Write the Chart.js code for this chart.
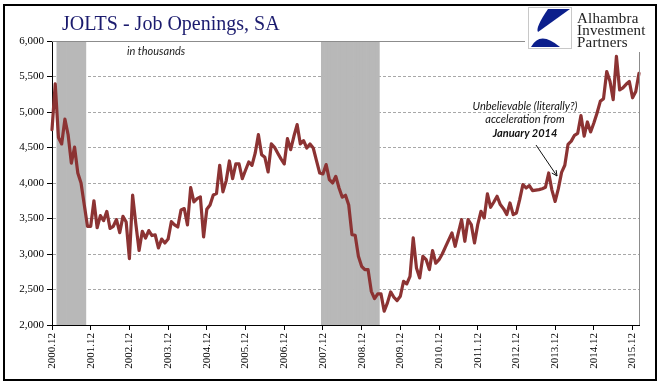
<!DOCTYPE html>
<html lang="en">
<head>
<meta charset="UTF-8">
<title>JOLTS - Job Openings, SA</title>
<script src="https://cdn.jsdelivr.net/npm/chart.js"></script>
<style>
    html, body { margin: 0; padding: 0; background: #fff; }
    .wrap { position: relative; width: 669px; height: 392px; overflow: hidden; }
    .wrap canvas { position: absolute; left: 0; top: 0; }
    .frame { position: absolute; left: 3px; top: 4px; width: 654px; height: 377px; border: 2px solid #000; box-sizing: border-box; pointer-events: none; }
    .txt { position: absolute; white-space: nowrap; }
    .title { left: 62px; top: 13px; font: 20px/20px "Liberation Serif", serif; color: #1b1b6e; }
    .logo { left: 577px; font: 15px/15px "Liberation Serif", serif; color: #222; letter-spacing: 0.2px; }
    .units { left: 127px; top: 45px; font: italic 11px/11px Lato, sans-serif; color: #222; }
    .note { left: 459px; width: 132px; text-align: center; font: italic 11px/11px Lato, sans-serif; color: #111; }
    .note b { font-weight: 700; font-size: 11px; }
</style>
</head>
<body>
<div class="wrap">
    <canvas id="jolts" width="669" height="392"></canvas>
    <div class="frame"></div>
    <div class="txt title">JOLTS - Job Openings, SA</div>
    <div class="txt logo" style="top:11px">Alhambra</div>
    <div class="txt logo" style="top:23px">Investment</div>
    <div class="txt logo" style="top:35px">Partners</div>
    <div class="txt units">in thousands</div>
    <div class="txt note" style="top:100px">Unbelievable (literally?)</div>
    <div class="txt note" style="top:113px">acceleration from</div>
    <div class="txt note" style="top:127px"><b>January 2014</b></div>
</div>

<script>
// monthly, starting 2000.12
const startYear = 2000;
const startMonth = 12;

const jobOpenings = [
    4750, 5395, 4640, 4550, 4900, 4680, 4280, 4505, 4140, 4000, 3695, 3390,
    3390, 3750, 3370, 3540, 3470, 3600, 3360, 3390, 3485, 3300, 3530, 3450,
    2935, 3830, 3420, 3050, 3320, 3225, 3330, 3260, 3270, 3085, 3210, 3155,
    3210, 3455, 3410, 3380, 3620, 3640, 3410, 3935, 3735, 3780, 3805, 3240,
    3630, 3690, 3830, 3850, 4250, 3875, 4030, 4310, 4060, 4270, 4268, 4062,
    4180, 4296, 4249, 4420, 4681, 4399, 4362, 4155, 4550, 4503, 4420, 4340,
    4268, 4625, 4470, 4658, 4822, 4550, 4597, 4493, 4550, 4493, 4315, 4141,
    4127, 4259, 4048, 4001, 4094, 3930, 3800, 3827, 3690, 3273, 3264, 2968,
    2827, 2780, 2780, 2475, 2372, 2438, 2438, 2194, 2311, 2466, 2391, 2344,
    2405, 2616, 2579, 2686, 3226, 2804, 2663, 2968, 2921, 2780, 3048, 2870,
    2920, 3000, 3100, 3200, 3297, 3109, 3300, 3484, 3179, 3484, 3414, 3156,
    3414, 3602, 3508, 3846, 3658, 3733, 3813, 3696, 3639, 3555, 3719, 3555,
    3578, 3766, 3977, 3930, 3963, 3893, 3900, 3907, 3920, 3940, 4141, 3900,
    3740, 3920, 4150, 4250, 4545, 4590, 4672, 4700, 4950, 4660, 4860, 4719,
    4845, 4986, 5150, 5188, 5570, 5432, 5174, 5784, 5310, 5340, 5390, 5430,
    5200, 5290, 5545
];

// shaded recession months (inclusive)
const recessionStart = ['2001.02', '2007.12'];
const recessionEnd = ['2001.10', '2009.05'];

const yTicks = [2000, 2500, 3000, 3500, 4000, 4500, 5000, 5500, 6000];

const labels = [];
for (let i = 0; i < jobOpenings.length; i++) {
    const m0 = startMonth - 1 + i;
    const y = startYear + Math.floor(m0 / 12);
    const m = (m0 % 12) + 1;
    labels.push(y + '.' + (m < 10 ? '0' + m : m));
}

function inRecession(label) {
    const k = parseFloat(label);
    for (let i = 0; i < recessionStart.length; i++) {
        if (k >= parseFloat(recessionStart[i]) && k <= parseFloat(recessionEnd[i])) return true;
    }
    return false;
}
const shade = labels.map(l => inRecession(l) ? yTicks[yTicks.length - 1] : null);

const decor = {
    id: 'decor',
    afterDatasetsDraw(chart) {
        const ctx = chart.ctx;
        const a = chart.chartArea;
        ctx.save();
        ctx.strokeStyle = '#8c8c8c';
        ctx.lineWidth = 1;
        // top line, stops at the logo
        ctx.beginPath();
        ctx.moveTo(a.left, Math.round(a.top) + 0.5);
        ctx.lineTo(525, Math.round(a.top) + 0.5);
        ctx.stroke();
        // right edge
        ctx.beginPath();
        ctx.moveTo(Math.round(a.right) + 0.5, 52);
        ctx.lineTo(Math.round(a.right) + 0.5, a.bottom);
        ctx.stroke();
        ctx.restore();
    },
    afterDraw(chart) {
        const ctx = chart.ctx;
        ctx.save();
        // arrow
        const x1 = 536, y1 = 145, x2 = 557, y2 = 176;
        ctx.strokeStyle = '#111';
        ctx.lineWidth = 1;
        ctx.beginPath();
        ctx.moveTo(x1, y1);
        ctx.lineTo(x2, y2);
        ctx.stroke();
        const ang = Math.atan2(y2 - y1, x2 - x1);
        ctx.beginPath();
        ctx.moveTo(x2 - 6 * Math.cos(ang - 0.45), y2 - 6 * Math.sin(ang - 0.45));
        ctx.lineTo(x2, y2);
        ctx.lineTo(x2 - 6 * Math.cos(ang + 0.45), y2 - 6 * Math.sin(ang + 0.45));
        ctx.stroke();
        // logo box
        ctx.fillStyle = '#fff';
        ctx.fillRect(528, 7, 44, 42);
        ctx.strokeStyle = '#c8c8c8';
        ctx.strokeRect(528.5, 7.5, 43, 41);
        ctx.fillStyle = '#0c1f8c';
        ctx.beginPath();
        ctx.moveTo(548, 9);
        ctx.lineTo(570, 9);
        ctx.lineTo(538, 32);
        ctx.quadraticCurveTo(535, 28, 548, 9);
        ctx.fill();
        ctx.beginPath();
        ctx.moveTo(531, 47);
        ctx.quadraticCurveTo(540, 30, 560, 47);
        ctx.closePath();
        ctx.fill();
        ctx.restore();
    }
};

new Chart(document.getElementById('jolts'), {
    type: 'bar',
    data: {
        labels: labels,
        datasets: [
            {
                type: 'line',
                label: 'Job Openings',
                data: jobOpenings,
                borderColor: '#8c3333',
                borderWidth: 3.2,
                pointRadius: 0,
                tension: 0,
                fill: false,
                borderJoinStyle: 'round',
                borderCapStyle: 'round',
                clip: false,
                order: 0
            },
            {
                type: 'bar',
                label: 'Recession',
                data: shade,
                backgroundColor: '#b8b8b8',
                borderWidth: 0,
                barPercentage: 1,
                categoryPercentage: 1,
                order: 1
            }
        ]
    },
    options: {
        responsive: false,
        animation: false,
        layout: { padding: { left: 0, top: 41, right: 30, bottom: 0 } },
        plugins: { legend: { display: false }, tooltip: { enabled: false } },
        scales: {
            x: {
                offset: false,
                grid: { offset: false, drawOnChartArea: false, tickLength: 5, color: '#000', tickColor: '#000' },
                border: { color: '#000', width: 1 },
                ticks: {
                    autoSkip: false,
                    minRotation: 90,
                    maxRotation: 90,
                    padding: 3,
                    color: '#000',
                    font: { family: 'Liberation Serif', size: 11 },
                    callback: function (value, index) {
                        const l = labels[index];
                        return l.endsWith('.12') ? l : null;
                    }
                },
                afterFit: function (scale) { scale.height = 67; }
            },
            y: {
                min: yTicks[0],
                max: yTicks[yTicks.length - 1],
                afterBuildTicks: function (scale) { scale.ticks = yTicks.map(v => ({ value: v })); },
                grid: {
                    tickLength: 5,
                    tickColor: '#000',
                    tickBorderDash: [],
                    color: function (c) {
                        const v = c.tick ? c.tick.value : null;
                        return (v === 2000 || v === 6000) ? 'rgba(0,0,0,0)' : '#a8a8a8';
                    }
                },
                border: { color: '#000', width: 1, dash: [3, 2] },
                ticks: {
                    padding: 3,
                    color: '#000',
                    font: { family: 'Liberation Serif', size: 11 },
                    callback: function (v) { return v.toLocaleString('en-US'); }
                },
                afterFit: function (scale) { scale.width = 52; }
            }
        }
    },
    plugins: [decor]
});
</script>
</body>
</html>
